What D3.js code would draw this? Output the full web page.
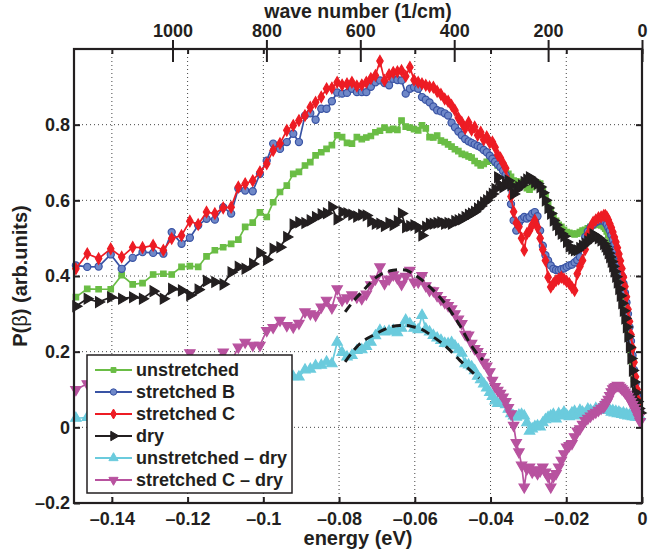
<!DOCTYPE html>
<html>
<head>
<meta charset="utf-8">
<script src="https://cdn.jsdelivr.net/npm/d3@7"></script>
<style>
body { margin: 0; background: #fff; }
svg text { font-family: "Liberation Sans", Arial, Helvetica, sans-serif; font-weight: bold; fill: #231f20; }
</style>
</head>
<body>
<script>
// energy grid shared by all six curves (eV)
var energy = [
	-0.1495, -0.1465, -0.1435, -0.1403, -0.1374, -0.1345, -0.1319, -0.1291, -0.1264, -0.1242,
	-0.1216, -0.1194, -0.1172, -0.1150, -0.1128, -0.1106, -0.1085, -0.1066, -0.1048, -0.1028,
	-0.1009, -0.0991, -0.0974, -0.0956, -0.0938, -0.0921, -0.0906, -0.0890, -0.0876, -0.0862,
	-0.0847, -0.0833, -0.0819, -0.0805,
	-0.0792, -0.0779, -0.0766, -0.0753, -0.0740, -0.0728, -0.0716, -0.0704, -0.0692, -0.0680,
	-0.0668, -0.0657, -0.0646, -0.0635, -0.0624, -0.0613, -0.0602, -0.0591, -0.0581, -0.0571,
	-0.0561, -0.0551, -0.0541, -0.0531, -0.0521, -0.0512, -0.0503, -0.0494, -0.0485, -0.0476,
	-0.0467, -0.0458, -0.0450, -0.0442, -0.0434, -0.0426, -0.0418, -0.0410, -0.0402,
	-0.0395, -0.0388, -0.0381, -0.0374, -0.0367, -0.0360, -0.0353, -0.0346, -0.0339, -0.0332,
	-0.0325, -0.0318, -0.0311, -0.0304, -0.0297, -0.0290, -0.0283, -0.0276, -0.0269, -0.0262,
	-0.0255, -0.0248, -0.0241, -0.0234, -0.0227, -0.0220, -0.0213, -0.0206, -0.0199, -0.0192,
	-0.0185, -0.0178, -0.0171, -0.0164, -0.0157, -0.0150, -0.0143, -0.0136, -0.0129, -0.0122,
	-0.0115, -0.0108, -0.0101,
	-0.0097, -0.0093, -0.0089, -0.0085, -0.0081, -0.0077, -0.0073, -0.0069, -0.0065, -0.0061,
	-0.0057, -0.0053, -0.0049, -0.0045, -0.0041, -0.0037, -0.0033, -0.0029, -0.0025, -0.0021,
	-0.0017, -0.0013, -0.0009, -0.0005
];

var unstretched = [
	0.344, 0.366, 0.365, 0.365, 0.402, 0.378, 0.381, 0.404, 0.406, 0.404,
	0.424, 0.426, 0.424, 0.452, 0.468, 0.476, 0.485, 0.496, 0.530, 0.541,
	0.568, 0.556, 0.595, 0.622, 0.639, 0.670, 0.675, 0.692, 0.701, 0.719,
	0.727, 0.736, 0.746, 0.772,
	0.767, 0.752, 0.750, 0.767, 0.762, 0.766, 0.770, 0.780, 0.784, 0.792,
	0.786, 0.789, 0.786, 0.811, 0.795, 0.792, 0.788, 0.785, 0.798, 0.790,
	0.767, 0.766, 0.771, 0.758, 0.754, 0.748, 0.742, 0.735, 0.730, 0.723,
	0.720, 0.716, 0.713, 0.704, 0.698, 0.692, 0.696, 0.702, 0.705,
	0.710, 0.700, 0.692, 0.688, 0.683, 0.676, 0.670, 0.662, 0.652, 0.650,
	0.648, 0.644, 0.640, 0.632, 0.628, 0.635, 0.640, 0.646, 0.644, 0.630,
	0.612, 0.590, 0.575, 0.560, 0.546, 0.535, 0.530, 0.522, 0.516, 0.514,
	0.512, 0.510, 0.512, 0.516, 0.520, 0.522, 0.526, 0.530, 0.534, 0.536,
	0.536, 0.534, 0.530,
	0.525, 0.518, 0.508, 0.495, 0.482, 0.468, 0.452, 0.436, 0.418, 0.398,
	0.378, 0.356, 0.334, 0.310, 0.285, 0.258, 0.228, 0.196, 0.162, 0.128,
	0.098, 0.072, 0.054, 0.042
];

var stretchedB = [
	0.428, 0.424, 0.425, 0.457, 0.419, 0.448, 0.463, 0.461, 0.459, 0.516,
	0.485, 0.501, 0.534, 0.551, 0.549, 0.582, 0.565, 0.631, 0.626, 0.624,
	0.670, 0.705, 0.750, 0.736, 0.754, 0.776, 0.754, 0.824, 0.830, 0.813,
	0.842, 0.842, 0.862, 0.885,
	0.882, 0.884, 0.895, 0.886, 0.886, 0.886, 0.900, 0.912, 0.917, 0.910,
	0.904, 0.921, 0.918, 0.917, 0.882, 0.895, 0.899, 0.895, 0.873, 0.866,
	0.859, 0.848, 0.838, 0.835, 0.830, 0.824, 0.805, 0.793, 0.782, 0.772,
	0.762, 0.756, 0.752, 0.748, 0.744, 0.740, 0.733, 0.727, 0.718,
	0.710, 0.702, 0.695, 0.688, 0.678, 0.668, 0.640, 0.590, 0.547, 0.520,
	0.540, 0.550, 0.556, 0.552, 0.556, 0.565, 0.569, 0.558, 0.520, 0.480,
	0.455, 0.441, 0.428, 0.419, 0.416, 0.415, 0.418, 0.420, 0.424, 0.428,
	0.430, 0.436, 0.442, 0.450, 0.478, 0.503, 0.518, 0.529, 0.536, 0.542,
	0.545, 0.547, 0.546,
	0.542, 0.536, 0.528, 0.520, 0.508, 0.496, 0.484, 0.470, 0.455, 0.438,
	0.420, 0.400, 0.380, 0.356, 0.330, 0.300, 0.265, 0.228, 0.190, 0.152,
	0.115, 0.085, 0.060, 0.045
];

var stretchedC = [
	0.419, 0.459, 0.446, 0.472, 0.450, 0.476, 0.475, 0.481, 0.468, 0.499,
	0.507, 0.545, 0.536, 0.569, 0.565, 0.580, 0.582, 0.635, 0.644, 0.652,
	0.675, 0.697, 0.732, 0.750, 0.785, 0.798, 0.811, 0.824, 0.846, 0.859,
	0.873, 0.895, 0.897, 0.912,
	0.905, 0.908, 0.912, 0.902, 0.905, 0.912, 0.922, 0.930, 0.968, 0.917,
	0.932, 0.938, 0.940, 0.943, 0.928, 0.952, 0.918, 0.912, 0.908, 0.904,
	0.900, 0.899, 0.888, 0.880, 0.868, 0.862, 0.851, 0.838, 0.818, 0.806,
	0.790, 0.806, 0.786, 0.794, 0.772, 0.780, 0.760, 0.768, 0.752,
	0.754, 0.740, 0.720, 0.712, 0.698, 0.685, 0.650, 0.610, 0.570, 0.540,
	0.530, 0.500, 0.468, 0.512, 0.520, 0.535, 0.547, 0.529, 0.500, 0.470,
	0.441, 0.397, 0.371, 0.380, 0.388, 0.392, 0.397, 0.392, 0.386, 0.380,
	0.370, 0.362, 0.406, 0.425, 0.441, 0.470, 0.510, 0.528, 0.542, 0.548,
	0.554, 0.556, 0.560,
	0.560, 0.556, 0.548, 0.538, 0.528, 0.516, 0.503, 0.490, 0.475, 0.458,
	0.440, 0.420, 0.397, 0.372, 0.345, 0.312, 0.280, 0.245, 0.210, 0.172,
	0.134, 0.100, 0.070, 0.048
];

var dry = [
	0.320, 0.340, 0.331, 0.344, 0.340, 0.344, 0.340, 0.360, 0.340, 0.366,
	0.362, 0.349, 0.364, 0.387, 0.384, 0.378, 0.410, 0.424, 0.419, 0.432,
	0.461, 0.443, 0.472, 0.476, 0.503, 0.536, 0.542, 0.540, 0.547, 0.556,
	0.563, 0.566, 0.582, 0.550,
	0.569, 0.566, 0.562, 0.557, 0.562, 0.560, 0.545, 0.538, 0.538, 0.532,
	0.540, 0.535, 0.545, 0.565, 0.529, 0.532, 0.534, 0.528, 0.507, 0.530,
	0.538, 0.538, 0.540, 0.542, 0.538, 0.540, 0.538, 0.545, 0.547, 0.550,
	0.556, 0.562, 0.565, 0.570, 0.578, 0.585, 0.594, 0.600, 0.610,
	0.617, 0.630, 0.661, 0.640, 0.635, 0.645, 0.652, 0.640, 0.617, 0.628,
	0.635, 0.640, 0.648, 0.655, 0.661, 0.655, 0.648, 0.644, 0.635, 0.620,
	0.600, 0.580, 0.565, 0.547, 0.535, 0.522, 0.512, 0.505, 0.490, 0.478,
	0.472, 0.468, 0.468, 0.474, 0.480, 0.486, 0.492, 0.498, 0.510, 0.505,
	0.500, 0.494, 0.485,
	0.478, 0.470, 0.460, 0.450, 0.438, 0.425, 0.412, 0.398, 0.383, 0.366,
	0.348, 0.328, 0.308, 0.288, 0.265, 0.240, 0.212, 0.182, 0.150, 0.120,
	0.092, 0.068, 0.050, 0.038
];

var unstretchedMinusDry = [
	0.024, 0.026, 0.034, 0.021, 0.062, 0.034, 0.041, 0.044, 0.066, 0.038,
	0.062, 0.077, 0.060, 0.065, 0.084, 0.098, 0.075, 0.072, 0.111, 0.109,
	0.107, 0.113, 0.123, 0.146, 0.136, 0.134, 0.133, 0.152, 0.154, 0.163,
	0.164, 0.173, 0.168, 0.225,
	0.198, 0.186, 0.190, 0.203, 0.205, 0.214, 0.225, 0.242, 0.256, 0.252,
	0.254, 0.256, 0.250, 0.262, 0.283, 0.274, 0.262, 0.258, 0.296, 0.260,
	0.252, 0.243, 0.236, 0.230, 0.222, 0.221, 0.224, 0.215, 0.205, 0.196,
	0.168, 0.165, 0.160, 0.150, 0.135, 0.126, 0.115, 0.104, 0.092,
	0.082, 0.070, 0.063, 0.066, 0.071, 0.060, 0.048, 0.036, 0.030, 0.027,
	0.032, 0.034, 0.030, 0.012, -0.010, -0.004, 0.002, 0.004, 0.001, 0.012,
	0.020, 0.026, 0.030, 0.034, 0.022, 0.036, 0.030, 0.040, 0.032, 0.028,
	0.038, 0.042, 0.030, 0.045, 0.040, 0.036, 0.048, 0.045, 0.040, 0.050,
	0.046, 0.054, 0.048,
	0.052, 0.045, 0.048, 0.045, 0.040, 0.044, 0.038, 0.042, 0.036, 0.040,
	0.036, 0.034, 0.038, 0.032, 0.035, 0.030, 0.032, 0.030, 0.028, 0.030,
	0.027, 0.028, 0.026, 0.028
];

var stretchedCMinusDry = [
	0.100, 0.115, 0.115, 0.128, 0.110, 0.132, 0.135, 0.121, 0.128, 0.133,
	0.145, 0.197, 0.172, 0.182, 0.181, 0.199, 0.172, 0.212, 0.225, 0.217,
	0.217, 0.256, 0.264, 0.283, 0.269, 0.265, 0.275, 0.305, 0.300, 0.296,
	0.318, 0.336, 0.316, 0.366,
	0.336, 0.342, 0.350, 0.344, 0.340, 0.352, 0.377, 0.392, 0.424, 0.380,
	0.392, 0.403, 0.395, 0.378, 0.399, 0.415, 0.384, 0.384, 0.401, 0.374,
	0.362, 0.361, 0.348, 0.338, 0.330, 0.322, 0.313, 0.300, 0.286, 0.274,
	0.246, 0.244, 0.222, 0.208, 0.200, 0.187, 0.172, 0.162, 0.147,
	0.124, 0.108, 0.098, 0.090, 0.080, 0.068, 0.052, 0.036, 0.005, -0.040,
	-0.065, -0.100, -0.158, -0.110, -0.105, -0.118, -0.112, -0.122, -0.115, -0.105,
	-0.118, -0.130, -0.158, -0.130, -0.122, -0.105, -0.087, -0.070, -0.052, -0.048,
	-0.043, -0.025, -0.010, -0.004, 0.008, 0.018, 0.024, 0.030, 0.036, 0.040,
	0.045, 0.050, 0.054,
	0.060, 0.066, 0.074, 0.084, 0.094, 0.102, 0.106, 0.108, 0.111, 0.110,
	0.106, 0.102, 0.098, 0.093, 0.088, 0.082, 0.075, 0.068, 0.060, 0.052,
	0.044, 0.036, 0.026, 0.015
];

// dashed fits, [energy, value]
var fitStretchedC = [
	[-0.0784, 0.305], [-0.0760, 0.336], [-0.0736, 0.362], [-0.0701, 0.397], [-0.0680, 0.409],
	[-0.0657, 0.415], [-0.0640, 0.417], [-0.0622, 0.415], [-0.0605, 0.406], [-0.0586, 0.393],
	[-0.0551, 0.362], [-0.0516, 0.322], [-0.0481, 0.269], [-0.0454, 0.221], [-0.0428, 0.186],
	[-0.0420, 0.178]
];
var fitUnstretched = [
	[-0.0784, 0.173], [-0.0760, 0.205], [-0.0745, 0.221], [-0.0701, 0.248], [-0.0680, 0.259],
	[-0.0657, 0.267], [-0.0640, 0.269], [-0.0622, 0.269], [-0.0605, 0.266], [-0.0586, 0.261],
	[-0.0551, 0.239], [-0.0516, 0.212], [-0.0481, 0.177], [-0.0454, 0.151], [-0.0430, 0.130]
];

var energyTicks = [-0.14, -0.12, -0.1, -0.08, -0.06, -0.04, -0.02, 0];
var valueTicks = [-0.2, 0, 0.2, 0.4, 0.6, 0.8];
var waveTicks = [1000, 800, 600, 400, 200, 0];
var seriesNames = ['unstretched', 'stretched B', 'stretched C', 'dry', 'unstretched \u2013 dry', 'stretched C \u2013 dry'];

var CM_PER_EV = 8065.54;
var W = 649, H = 554;
var plotLeft = 74, plotRight = 642, plotTop = 49, plotBottom = 503;

function tickText(v) {
	if (v === 0) return '0';
	var s = String(+Math.abs(v).toFixed(2));
	return (v < 0 ? '\u2013' : '') + s;
}

function drawChart() {
	var svg = d3.select('body').append('svg')
		.attr('width', W)
		.attr('height', H);

	var x = d3.scaleLinear().domain([-0.15, 0]).range([plotLeft, plotRight]);
	var y = d3.scaleLinear().domain([-0.2, 1.0]).range([plotBottom, plotTop]);
	var xWave = d3.scaleLinear().domain([0.15 * CM_PER_EV, 0]).range([plotLeft, plotRight]);

	//dotted grid
	var grid = svg.append('g').attr('class', 'grid')
		.attr('stroke', '#444').attr('stroke-width', 1).attr('stroke-dasharray', '1,3');
	grid.selectAll('line.v').data(energyTicks.filter(function(d) { return d !== 0; }))
		.enter().append('line')
		.attr('x1', function(d) { return x(d); }).attr('x2', function(d) { return x(d); })
		.attr('y1', plotTop).attr('y2', plotBottom);
	grid.selectAll('line.h').data(valueTicks.filter(function(d) { return d !== -0.2; }))
		.enter().append('line')
		.attr('y1', function(d) { return y(d); }).attr('y2', function(d) { return y(d); })
		.attr('x1', plotLeft).attr('x2', plotRight);

	var series = [
		{ values: unstretched, color: '#6abd45', fill: '#6abd45', symbol: d3.symbolSquare, size: 30, rot: 0 },
		{ values: stretchedB, color: '#3953a4', fill: '#6f88c8', symbol: d3.symbolCircle, size: 40, rot: 0 },
		{ values: stretchedC, color: '#ed1c24', fill: '#ed1c24', symbol: d3.symbolDiamond, size: 36, rot: 0 },
		{ values: dry, color: '#231f20', fill: '#231f20', symbol: d3.symbolTriangle, size: 48, rot: 90 },
		{ values: unstretchedMinusDry, color: '#6bcbdd', fill: '#6bcbdd', symbol: d3.symbolTriangle, size: 46, rot: 0 },
		{ values: stretchedCMinusDry, color: '#b8529f', fill: '#b8529f', symbol: d3.symbolTriangle, size: 46, rot: 180 }
	];

	var line = d3.line()
		.x(function(d) { return x(d[0]); })
		.y(function(d) { return y(d[1]); });

	series.forEach(function(s, k) {
		var pts = energy.map(function(e, i) { return [e, s.values[i]]; });
		var g = svg.append('g').attr('class', 'series s' + k);
		g.append('path')
			.attr('d', line(pts))
			.attr('fill', 'none')
			.attr('stroke', s.color)
			.attr('stroke-width', 1.7);
		var sym = d3.symbol().type(s.symbol).size(s.size);
		g.selectAll('path.m').data(pts).enter().append('path')
			.attr('class', 'm')
			.attr('d', sym)
			.attr('transform', function(d) { return 'translate(' + x(d[0]) + ',' + y(d[1]) + ') rotate(' + s.rot + ')'; })
			.attr('fill', s.fill)
			.attr('stroke', s.color)
			.attr('stroke-width', 1.2);
	});

	//dashed gaussian fits
	var fitLine = d3.line()
		.x(function(d) { return x(d[0]); })
		.y(function(d) { return y(d[1]); })
		.curve(d3.curveMonotoneX);
	[fitStretchedC, fitUnstretched].forEach(function(f) {
		svg.append('path')
			.attr('d', fitLine(f))
			.attr('fill', 'none')
			.attr('stroke', '#1a1a1a')
			.attr('stroke-width', 3)
			.attr('stroke-dasharray', '9,6');
	});

	// axes
	var bottomAxis = svg.append('g').attr('transform', 'translate(0,' + plotBottom + ')')
		.call(d3.axisBottom(x).tickValues(energyTicks).tickSizeInner(-6).tickSizeOuter(0).tickPadding(9).tickFormat(tickText));
	var leftAxis = svg.append('g').attr('transform', 'translate(' + plotLeft + ',0)')
		.call(d3.axisLeft(y).tickValues(valueTicks).tickSizeInner(-6).tickSizeOuter(0).tickPadding(4).tickFormat(tickText));
	var rightAxis = svg.append('g').attr('transform', 'translate(' + plotRight + ',0)')
		.call(d3.axisRight(y).tickValues(valueTicks).tickSizeInner(-6).tickSizeOuter(0).tickFormat(''));
	var topAxis = svg.append('g').attr('transform', 'translate(0,' + plotTop + ')')
		.call(d3.axisTop(x).tickValues(energyTicks).tickSizeInner(-5).tickSizeOuter(0).tickFormat(''));
	var waveAxis = svg.append('g').attr('transform', 'translate(0,' + plotTop + ')')
		.call(d3.axisTop(xWave).tickValues(waveTicks).tickSizeInner(-13).tickSizeOuter(0).tickPadding(12).tickFormat(d3.format('d')));
	waveAxis.selectAll('.tick line').attr('y1', -9).attr('y2', 13);

	[bottomAxis, leftAxis, rightAxis, topAxis, waveAxis].forEach(function(a) {
		a.select('.domain').remove();
		a.selectAll('.tick line').attr('stroke', '#231f20').attr('stroke-width', 2);
		a.selectAll('text').attr('font-size', 18).attr('fill', '#231f20')
			.attr('font-family', '"Liberation Sans", Arial, sans-serif').attr('font-weight', 'bold');
	});

	svg.append('rect')
		.attr('x', plotLeft).attr('y', plotTop)
		.attr('width', plotRight - plotLeft).attr('height', plotBottom - plotTop)
		.attr('fill', 'none').attr('stroke', '#231f20').attr('stroke-width', 2.2);

	// axis titles
	svg.append('text').attr('x', (plotLeft + plotRight) / 2).attr('y', 545)
		.attr('text-anchor', 'middle').attr('font-size', 20).text('energy (eV)');
	svg.append('text').attr('x', (plotLeft + plotRight) / 2).attr('y', 18)
		.attr('text-anchor', 'middle').attr('font-size', 19.5).text('wave number (1/cm)');
	var ylab = svg.append('text')
		.attr('transform', 'translate(27,' + 276 + ') rotate(-90)')
		.attr('text-anchor', 'middle').attr('font-size', 20);
	ylab.append('tspan').text('P(');
	ylab.append('tspan').attr('font-weight', 'normal').text('\u03b2');
	ylab.append('tspan').text(') (arb.units)');

	//legend
	var lg = svg.append('g').attr('class', 'legend');
	lg.append('rect')
		.attr('x', 87).attr('y', 355).attr('width', 205).attr('height', 138)
		.attr('fill', '#fff').attr('stroke', '#231f20').attr('stroke-width', 1.5);
	var rows = lg.selectAll('g.row').data(series).enter().append('g')
		.attr('transform', function(d, i) { return 'translate(0,' + (370 + i * 22) + ')'; });
	rows.append('line')
		.attr('x1', 95).attr('x2', 132).attr('y1', 0).attr('y2', 0)
		.attr('stroke', function(d) { return d.color; }).attr('stroke-width', 1.8);
	rows.append('path')
		.attr('d', function(d) { return d3.symbol().type(d.symbol).size(d.size * 0.8)(); })
		.attr('transform', function(d) { return 'translate(113.5,0) rotate(' + d.rot + ')'; })
		.attr('fill', function(d) { return d.fill; })
		.attr('stroke', function(d) { return d.color; });
	rows.append('text')
		.attr('x', 136).attr('y', 0).attr('dy', '0.36em')
		.attr('font-size', 18)
		.text(function(d, i) { return seriesNames[i]; });
}

window.addEventListener('DOMContentLoaded', function() {
	drawChart();
}, false);
</script>
</body>
</html>
